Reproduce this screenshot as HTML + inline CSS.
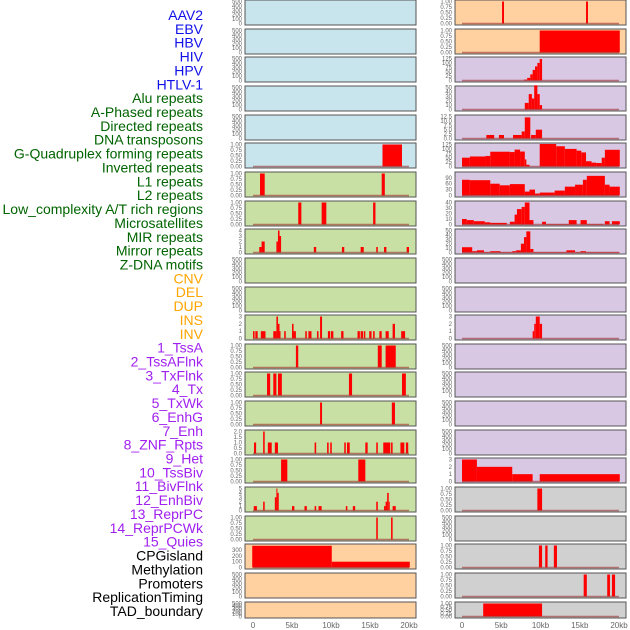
<!DOCTYPE html>
<html><head><meta charset="utf-8"><style>
body{margin:0;background:#fff;width:630px;height:630px;overflow:hidden;font-family:"Liberation Sans",sans-serif}
svg{position:absolute;left:0;top:0}
</style></head><body>
<svg id="chart" width="630" height="630"></svg>
<script>
const labels=["AAV2","EBV","HBV","HIV","HPV","HTLV-1","Alu repeats","A-Phased repeats","Directed repeats","DNA transposons","G-Quadruplex forming repeats","Inverted repeats","L1 repeats","L2 repeats","Low_complexity A/T rich regions","Microsatellites","MIR repeats","Mirror repeats","Z-DNA motifs","CNV","DEL","DUP","INS","INV","1_TssA","2_TssAFlnk","3_TxFlnk","4_Tx","5_TxWk","6_EnhG","7_Enh","8_ZNF_Rpts","9_Het","10_TssBiv","11_BivFlnk","12_EnhBiv","13_ReprPC","14_ReprPCWk","15_Quies","CPGisland","Methylation","Promoters","ReplicationTiming","TAD_boundary"];
const labelColors=Array(6).fill("#1010e8").concat(Array(13).fill("#006400"),Array(5).fill("#ffa500"),Array(15).fill("#a020f0"),Array(5).fill("#000"));
const xTicks=[0,5,10,15,20];
const xTickLabels=["0","5kb","10kb","15kb","20kb"];
const ticksEmpty=[0,100,200,300,400,500];
const ticks01=[0,0.25,0.5,0.75,1];
// bars: [startKb, endKb, value]
const htlvBars=[[16.6,19.1,1]];
const aluBars=[[0.9,1.5,1],[16.5,16.9,1]];
const aphasedBars=[[5.8,6.2,1],[8.8,9.4,1],[15.4,15.7,1]];
const directedBars=[[0.8,1.1,1],[1.1,1.5,2],[3.0,3.2,2],[3.2,3.4,4],[3.4,3.6,3],[7.8,8.1,1],[11.4,11.7,1],[13.8,14.2,1],[15.8,16.0,1],[16.8,17.1,1],[19.7,20.0,1]];
const invertedBars=[[0,0.2,1],[0.3,0.6,1],[1.0,1.6,1],[2.6,3.0,1],[3.0,3.2,3],[3.2,3.4,2],[3.4,3.5,1],[4.0,4.2,1],[5.0,5.2,2],[5.2,5.5,1],[6.7,6.9,1],[7.1,7.5,1],[8.2,8.4,1],[8.6,8.85,3],[9.6,9.9,1],[10.0,10.3,1],[11.3,11.6,1],[13.4,13.7,1],[13.8,14.1,1],[14.2,14.4,1],[14.9,15.2,1],[15.4,15.6,1],[16.2,16.5,1],[17.0,17.4,1],[17.9,18.2,2],[19.0,19.5,1]];
const l1Bars=[[5.5,5.8,1],[16.0,16.5,1],[17.0,18.3,1]];
const l2Bars=[[1.8,2.2,1],[2.6,3.0,1],[3.2,3.7,1],[12.3,12.7,1],[19.1,19.6,1]];
const lowCompBars=[[8.6,8.85,1],[17.8,18.2,1]];
const microsatBars=[[0.13,0.4,1],[1.3,1.5,2],[1.9,2.4,1],[2.8,3.2,1],[7.9,8.1,1],[9.5,9.7,1],[9.9,10.1,1],[11.7,11.9,1],[12.05,12.4,1],[14.4,14.7,1],[15.8,16.0,1],[16.7,17.6,1],[17.7,17.9,1],[18.9,19.4,1],[19.6,19.9,1]];
const mirBars=[[3.6,4.4,1],[13.5,14.4,1]];
const mirrorBars=[[0.1,0.5,1],[1.3,1.5,2],[2.8,3.0,3],[3.0,3.1,5],[3.1,3.3,4],[5.0,5.3,1],[6.6,6.9,1],[7.9,8.1,1],[8.4,8.8,1],[11.9,12.1,1],[12.8,13.1,1],[15.8,16.0,2],[16.8,17.0,1],[17.0,17.2,2],[17.2,17.4,4],[17.4,17.5,2],[17.9,18.3,1]];
const zdnaBars=[[15.8,16.0,1],[17.7,17.9,1]];
const cnvBars=[[-0.1,10.1,375],[10.1,20.1,100]];
const insBars=[[5.1,5.35,1],[15.8,16.05,1]];
const invBars=[[9.9,20.1,1]];
const tssaBars=[[7.9,8.3,5],[8.3,8.7,15],[8.7,9.0,35],[9.0,9.3,60],[9.3,9.6,80],[9.6,9.9,100],[9.9,10.2,122]];
const tssaflnkBars=[[8.0,8.5,15],[8.5,8.9,35],[8.9,9.2,25],[9.2,9.6,55],[9.6,9.9,35],[9.9,10.2,10]];
const txflnkBars=[[3.1,4.1,2],[4.7,5.35,2],[6.5,7.6,2],[7.6,8.0,4],[8.0,8.7,12],[8.8,9.4,2],[9.4,10.2,5]];
const txBars=[[0,1,50],[1,3,57],[3,3.6,60],[3.6,6.1,84],[6.1,6.7,82],[6.7,7.4,96],[7.4,8,85],[8,8.2,40],[8.2,8.6,10],[9.9,12,128],[12,13.1,115],[13.1,14.6,100],[14.6,15.2,90],[15.2,15.8,80],[15.8,16.5,30],[16.5,17.1,22],[17.1,17.8,20],[17.8,18.2,50],[18.2,20.1,95]];
const txwkBars=[[0,1,80],[1,3.6,78],[3.6,4.8,60],[4.8,6.1,52],[6.1,8,58],[8,8.6,20],[8.6,9.3,30],[9.3,9.9,10],[9.9,11.8,15],[11.8,13.1,25],[13.1,14.4,45],[14.4,15.4,55],[15.4,15.9,80],[15.9,18.2,100],[18.2,18.8,55],[18.8,20.1,45]];
const enhgBars=[[0,0.6,10],[0.6,1.5,8],[1.5,2.3,6],[2.3,2.9,6],[2.9,3.6,4],[3.6,5.7,3],[6.1,6.7,5],[6.7,7.0,18],[7.0,7.6,28],[7.6,8.0,32],[8.0,8.6,40],[8.6,9.1,8],[10.2,10.7,5],[10.7,13.6,1],[13.6,14.6,8],[15.1,15.9,8],[15.9,18.0,1],[18.2,18.8,6],[19.1,20.1,6]];
const enhBars=[[0,1.3,12],[1.3,1.9,3],[1.9,2.8,5],[2.8,3.6,1],[3.6,4.9,3],[4.9,6.4,1],[6.4,6.9,3],[6.9,7.5,5],[7.5,7.9,20],[7.9,8.2,35],[8.2,8.7,48],[8.7,9.1,8],[9.1,13.3,1],[13.3,14.4,5],[14.4,15.1,1],[15.1,15.8,3],[15.8,20.1,1]];
const tssbivBars=[[9.0,9.2,1],[9.2,9.4,2],[9.4,9.9,3],[9.9,10.2,2]];
const quiesBars=[[0,1.9,3],[1.9,6.4,2],[6.4,9.0,1],[9.9,20.1,1]];
const cpgBars=[[9.6,10.2,1]];
const promoterBars=[[9.8,10.2,1],[10.6,10.9,1],[11.7,12.1,1]];
const repliBars=[[15.5,15.9,1],[18.5,18.85,1],[19.1,19.5,1]];
const tadBars=[[2.7,10.2,1]];

const BLUE="#c8e4ec",GREEN="#c8e0a4",ORANGE="#ffd0a0",PURPLE="#d8c8e4",GRAY="#d0d0d0";
const E=null;
const left=[
 [BLUE,ticksEmpty,E],[BLUE,ticksEmpty,E],[BLUE,ticksEmpty,E],[BLUE,ticksEmpty,E],[BLUE,ticksEmpty,E],
 [BLUE,ticks01,htlvBars],[GREEN,ticks01,aluBars],[GREEN,ticks01,aphasedBars],[GREEN,[0,1,2,3,4],directedBars],
 [GREEN,ticksEmpty,E],[GREEN,ticksEmpty,E],[GREEN,[0,1,2,3],invertedBars],[GREEN,ticks01,l1Bars],[GREEN,ticks01,l2Bars],
 [GREEN,ticks01,lowCompBars],[GREEN,[0,0.5,1,1.5,2],microsatBars],[GREEN,ticks01,mirBars],[GREEN,[0,1,2,3,4,5],mirrorBars],
 [GREEN,ticks01,zdnaBars],[ORANGE,[0,100,200,300],cnvBars,380],[ORANGE,ticksEmpty,E],[ORANGE,ticksEmpty,E]];
const right=[
 [ORANGE,ticks01,insBars],[ORANGE,ticks01,invBars],[PURPLE,[0,25,50,75,100,125],tssaBars],[PURPLE,[0,10,20,30,40,50],tssaflnkBars],
 [PURPLE,[0,2.5,5,7.5,10,12.5],txflnkBars],[PURPLE,[0,25,50,75,100,125],txBars],[PURPLE,[0,30,60,90],txwkBars,112],
 [PURPLE,[0,10,20,30,40],enhgBars],[PURPLE,[0,10,20,30,40,50],enhBars],[PURPLE,ticksEmpty,E],[PURPLE,ticksEmpty,E],
 [PURPLE,[0,1,2,3],tssbivBars],[PURPLE,ticksEmpty,E],[PURPLE,ticksEmpty,E],[PURPLE,ticksEmpty,E],[PURPLE,ticksEmpty,E],
 [PURPLE,[0,1,2,3],quiesBars],[GRAY,ticks01,cpgBars],[GRAY,ticksEmpty,E],[GRAY,ticks01,promoterBars],[GRAY,ticks01,repliBars],[GRAY,ticks01,tadBars]];

const svg=document.getElementById('chart');
const NS="http://www.w3.org/2000/svg";
function mk(tag,attrs,parent){const e=document.createElementNS(NS,tag);for(const k in attrs)e.setAttribute(k,attrs[k]);(parent||svg).appendChild(e);return e;}

labels.forEach((t,i)=>{
 const e=mk('text',{x:203,y:20+i*13.86,'text-anchor':'end','font-size':14,fill:labelColors[i]});
 
 
 e.textContent=t;
});

function drawCol(panels,px,zeroX,kbW,col){
 const pw=171;
 const xs=kb=>zeroX+kb*kbW;
 panels.forEach((p,i)=>{
  const top=Math.round(i*28.65), h=(i===21?16:25);
  const g=mk('g',{});
  
  
  mk('rect',{x:px,y:top,width:pw,height:h,fill:p[0],stroke:'#555','stroke-width':1},g);
  const ticks=p[1], ymax=p[3]||ticks[ticks.length-1];
  const y0=top+h-1.5, y1=top+1.5;
  const ys=v=>y0-(v/ymax)*(y0-y1);
  ticks.forEach(t=>{
   const tl=mk('text',{x:px-3,y:ys(t)+2,'text-anchor':'end','font-size':6,fill:'#666'},g);
   
   
   tl.textContent=(ticks===ticks01||(ticks[1]===0.25))?t.toFixed(2):(ticks[1]===0.5||ticks[1]===2.5?t.toFixed(1):t);
  });
  if(p[2]){
   p[2].forEach(b=>{
    const r=mk('rect',{x:xs(b[0]),y:ys(b[2]),width:Math.max(1,xs(b[1])-xs(b[0])),height:y0-ys(b[2]),fill:'#ff0000'},g);
    
    
   });
   mk('line',{x1:xs(0),x2:xs(20),y1:y0,y2:y0,stroke:'#a03030','stroke-opacity':0.6,'stroke-width':1.5},g);
  }
 });
 xTicks.forEach((t,k)=>{
  const tl=mk('text',{x:xs(t),y:628,'text-anchor':'middle','font-size':8,fill:'#666'});
  
  
  tl.textContent=xTickLabels[k];
 });
}
drawCol(left,245,253,7.8,'left');
drawCol(right,455,462,7.85,'right');
</script>
</body></html>
